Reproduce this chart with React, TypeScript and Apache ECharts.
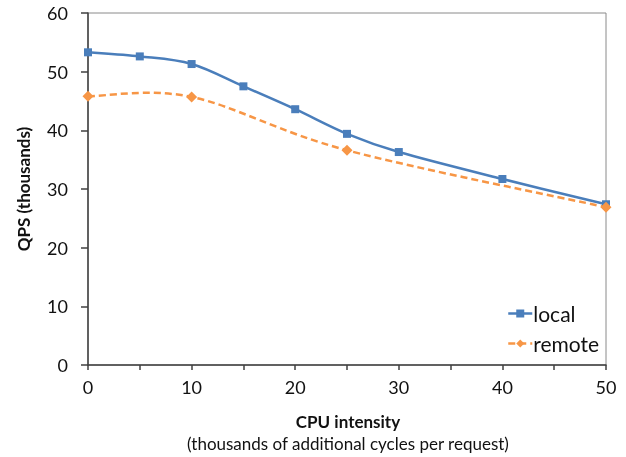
import React, { useEffect, useRef } from "react";
import * as echarts from "echarts";

const localX = [0, 5, 10, 15, 20, 25, 30, 40, 50];
const localY = [53.3, 52.6, 51.3, 47.5, 43.6, 39.4, 36.3, 31.7, 27.4];
const remoteX = [0, 10, 25, 50];
const remoteY = [45.8, 45.7, 36.6, 26.9];
const xLabels = [0, 10, 20, 30, 40, 50];
const yLabels = [0, 10, 20, 30, 40, 50, 60];

const FONT = "Lato, 'Open Sans', sans-serif";
const BLUE = "#4a7ebb";
const ORANGE = "#f79646";

function curveRenderer(xs: number[], ys: number[], color: string, dash: number[] | null) {
  return (params: any, api: any) => {
    if (params.dataIndex !== 0) return null;
    const p = xs.map((x, i) => api.coord([x, ys[i]]));
    let d = `M${p[0][0]},${p[0][1]}`;
    for (let i = 0; i < p.length - 1; i++) {
      const p0 = p[Math.max(0, i - 1)];
      const p1 = p[i];
      const p2 = p[i + 1];
      const p3 = p[Math.min(p.length - 1, i + 2)];
      const c1x = p1[0] + (p2[0] - p0[0]) / 6;
      const c1y = p1[1] + (p2[1] - p0[1]) / 6;
      const c2x = p2[0] - (p3[0] - p1[0]) / 6;
      const c2y = p2[1] - (p3[1] - p1[1]) / 6;
      d += ` C${c1x},${c1y} ${c2x},${c2y} ${p2[0]},${p2[1]}`;
    }
    return {
      type: "path",
      shape: { pathData: d },
      style: {
        fill: "none",
        stroke: color,
        lineWidth: 2.5,
        lineDash: dash || undefined,
      },
      z2: 1,
    };
  };
}

export default function App() {
  const ref = useRef<HTMLDivElement>(null);
  useEffect(() => {
    if (!ref.current) return;
    const chart = echarts.init(ref.current, undefined, { renderer: "svg" });
    chart.setOption({
      animation: false,
      textStyle: { fontFamily: FONT },
      grid: {
        left: 88,
        right: 20,
        top: 13,
        bottom: 92,
        containLabel: false,
        outerBoundsMode: "none",
        show: true,
        borderColor: "#8a8a8a",
        borderWidth: 1,
        backgroundColor: "transparent",
      },
      xAxis: {
        type: "value",
        min: 0,
        max: 50,
        interval: 5,
        axisLine: { show: true, lineStyle: { color: "#404040", width: 1.5 } },
        axisTick: { show: true, length: 5, lineStyle: { color: "#404040", width: 1.5 } },
        splitLine: { show: false },
        axisLabel: {
          fontSize: 18,
          color: "#111",
          margin: 13,
          fontFamily: FONT,
          formatter: (v: number) => (xLabels.includes(v) ? String(v) : ""),
        },
      },
      yAxis: {
        type: "value",
        min: 0,
        max: 60,
        interval: 10,
        axisLine: { show: true, lineStyle: { color: "#404040", width: 1.5 } },
        axisTick: { show: true, length: 7, lineStyle: { color: "#404040", width: 1.5 } },
        splitLine: { show: false },
        axisLabel: {
          fontSize: 18,
          color: "#111",
          margin: 20,
          fontFamily: FONT,
          formatter: (v: number) => (yLabels.includes(v) ? String(v) : ""),
        },
      },
      legend: {
        orient: "vertical",
        left: 502,
        top: 298,
        itemWidth: 24,
        itemHeight: 10,
        itemGap: 9,
        textStyle: { fontSize: 21, color: "#111", fontFamily: FONT, padding: [0, 0, 0, -4] },
        data: [
          { name: "local", lineStyle: { color: BLUE, width: 2.5, type: "solid", opacity: 1 } },
          { name: "remote", lineStyle: { color: ORANGE, width: 2.5, type: [7, 4], opacity: 1 } },
        ],
      },
      series: [
        {
          name: "localCurve",
          type: "custom",
          renderItem: curveRenderer(localX, localY, BLUE, null),
          data: localX.map((x, i) => [x, localY[i]]),
          silent: true,
          z: 1,
        },
        {
          name: "remoteCurve",
          type: "custom",
          renderItem: curveRenderer(remoteX, remoteY, ORANGE, [7, 4]),
          data: remoteX.map((x, i) => [x, remoteY[i]]),
          silent: true,
          z: 1,
        },
        {
          name: "local",
          type: "line",
          data: localX.map((x, i) => [x, localY[i]]),
          symbol: "rect",
          symbolSize: 8,
          lineStyle: { color: BLUE, width: 2.5, opacity: 0 },
          itemStyle: { color: BLUE },
          z: 3,
        },
        {
          name: "remote",
          type: "line",
          data: remoteX.map((x, i) => [x, remoteY[i]]),
          symbol: "diamond",
          symbolSize: 11,
          lineStyle: { color: ORANGE, width: 2.5, type: [7, 4], opacity: 0 },
          itemStyle: { color: ORANGE },
          z: 3,
        },
      ],
      graphic: [
        {
          type: "text",
          x: 23,
          y: 189,
          rotation: Math.PI / 2,
          style: {
            text: "QPS (thousands)",
            fontSize: 17,
            fontWeight: "bold",
            fontFamily: FONT,
            fill: "#111",
            align: "center",
            verticalAlign: "middle",
          },
        },
        {
          type: "text",
          x: 348,
          y: 421,
          style: {
            text: "CPU intensity",
            fontSize: 17,
            fontWeight: "bold",
            fontFamily: FONT,
            fill: "#111",
            align: "center",
            verticalAlign: "middle",
          },
        },
        {
          type: "text",
          x: 348,
          y: 443,
          style: {
            text: "(thousands of additional cycles per request)",
            fontSize: 17,
            fontFamily: FONT,
            fill: "#111",
            align: "center",
            verticalAlign: "middle",
          },
        },
      ],
    });
    return () => chart.dispose();
  }, []);
  return (
    <div
      ref={ref}
      style={{ position: "fixed", left: 0, top: 0, width: 626, height: 457 }}
    />
  );
}
